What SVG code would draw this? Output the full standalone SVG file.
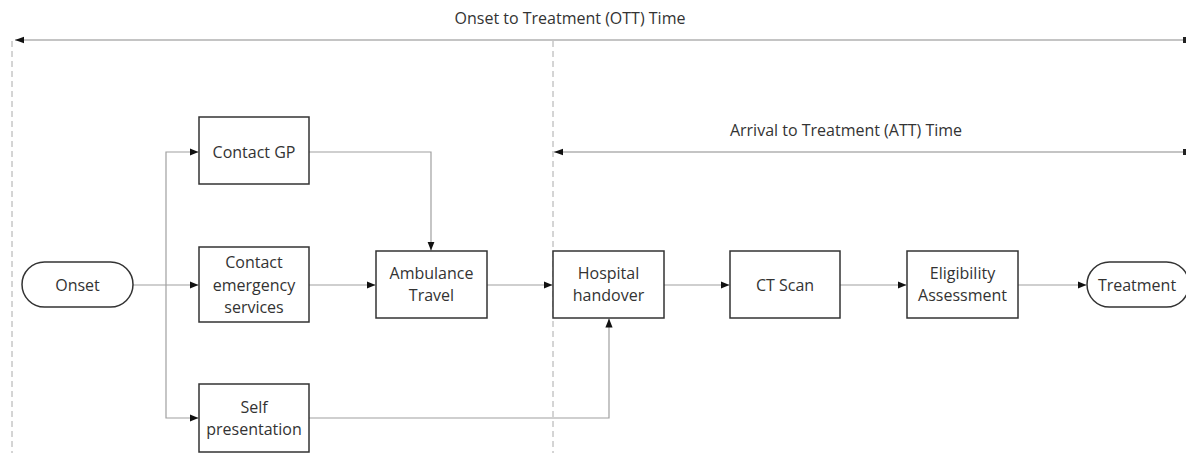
<svg xmlns="http://www.w3.org/2000/svg" width="1186" height="453" viewBox="0 0 1186 453">
<defs>
<marker id="ah" viewBox="0 0 10 10" refX="10" refY="5" markerWidth="9" markerHeight="9" markerUnits="userSpaceOnUse" orient="auto">
<path d="M0,1 L10,5 L0,9 z" fill="#111"/>
</marker>
<marker id="ahBig" viewBox="0 0 10 10" refX="10" refY="5" markerWidth="11" markerHeight="9" markerUnits="userSpaceOnUse" orient="auto-start-reverse">
<path d="M0,1.5 L10,5 L0,8.5 z" fill="#111"/>
</marker>
</defs>
<style>
text{font-family:"Open Sans","Liberation Sans",sans-serif;font-size:16px;fill:#333;text-anchor:middle}
.box{fill:#fff;stroke:#333;stroke-width:1.5}
.conn{fill:none;stroke:#a0a0a0;stroke-width:1.2}
.time{fill:none;stroke:#c4c4c4;stroke-width:2.2}
.dash{fill:none;stroke:#aaa;stroke-width:1;stroke-dasharray:6,4}
</style>
<rect width="1186" height="453" fill="#fff"/>
<g id="timelines">
<line class="dash" x1="12" y1="41" x2="12" y2="453"/>
<line class="dash" x1="553" y1="41" x2="553" y2="453"/>
<line class="time" x1="1184" y1="40" x2="15" y2="40" marker-end="url(#ahBig)"/>
<rect x="1183" y="37" width="3" height="6" fill="#222"/>
<text x="570" y="24">Onset to Treatment (OTT) Time</text>
<line class="time" x1="1184" y1="152" x2="554" y2="152" marker-end="url(#ahBig)"/>
<rect x="1183" y="149" width="3" height="6" fill="#222"/>
<text x="846" y="136">Arrival to Treatment (ATT) Time</text>
</g>
<g id="connectors">
<path class="conn" d="M133,285 H198.5" marker-end="url(#ah)"/>
<path class="conn" d="M166,285 V152 H198.5" marker-end="url(#ah)"/>
<path class="conn" d="M166,285 V418 H198.5" marker-end="url(#ah)"/>
<path class="conn" d="M309,285 H375.5" marker-end="url(#ah)"/>
<path class="conn" d="M309,152 H431 V250.5" marker-end="url(#ah)"/>
<path class="conn" d="M487,285 H552.5" marker-end="url(#ah)"/>
<path class="conn" d="M309,418 H609 V318.5" marker-end="url(#ah)"/>
<path class="conn" d="M664,285 H729.5" marker-end="url(#ah)"/>
<path class="conn" d="M840,285 H906.5" marker-end="url(#ah)"/>
<path class="conn" d="M1018,285 H1086.5" marker-end="url(#ah)"/>
</g>
<g id="onset">
<rect class="box" x="22" y="262" width="111" height="45" rx="22.5"/>
<text x="77.5" y="290.5">Onset</text>
</g>
<g id="contact-gp">
<rect class="box" x="199" y="117" width="110" height="67"/>
<text x="254" y="157.5">Contact GP</text>
</g>
<g id="contact-emergency">
<rect class="box" x="199" y="247" width="110" height="75"/>
<text x="254" y="268">Contact</text>
<text x="254" y="290.5">emergency</text>
<text x="254" y="313">services</text>
</g>
<g id="self-presentation">
<rect class="box" x="199" y="384" width="110" height="68"/>
<text x="254" y="412.5">Self</text>
<text x="254" y="435">presentation</text>
</g>
<g id="ambulance-travel">
<rect class="box" x="376" y="251" width="111" height="67"/>
<text x="431.5" y="279">Ambulance</text>
<text x="431.5" y="301">Travel</text>
</g>
<g id="hospital-handover">
<rect class="box" x="553" y="251" width="111" height="67"/>
<text x="608.5" y="279">Hospital</text>
<text x="608.5" y="301">handover</text>
</g>
<g id="ct-scan">
<rect class="box" x="730" y="251" width="110" height="67"/>
<text x="785" y="290.5">CT Scan</text>
</g>
<g id="eligibility-assessment">
<rect class="box" x="907" y="251" width="111" height="67"/>
<text x="962.5" y="279">Eligibility</text>
<text x="962.5" y="301">Assessment</text>
</g>
<g id="treatment">
<rect class="box" x="1087" y="262" width="102" height="45" rx="22.5"/>
<text x="1137" y="290.5">Treatment</text>
</g>
</svg>
